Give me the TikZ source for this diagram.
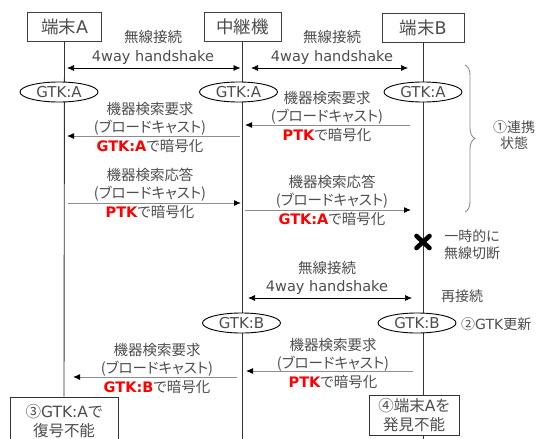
\documentclass[tikz,border=0pt]{standalone}
\usepackage{fontspec}
\setmainfont[RawFeature=+palt]{Noto Sans CJK JP}
\newfontfamily\lat{DejaVu Sans}
\usetikzlibrary{arrows.meta,shapes.geometric,decorations.pathreplacing}
\definecolor{txt}{HTML}{4D4D4D}
\definecolor{msg}{HTML}{8C8C8C}
\definecolor{keyred}{HTML}{FF0000}
\newcommand{\rk}[1]{\textcolor{keyred}{\lat\bfseries #1}}
\newcommand{\la}[1]{{\lat #1}}
\begin{document}
\begin{tikzpicture}[x=1pt,y=-1pt,
  hdr/.style={draw=black!75, fill=white, line width=0.8pt, minimum height=29pt, inner sep=0pt, text=txt, font=\fontsize{17.5}{20}\selectfont},
  botbox/.style={draw=black!80, fill=white, line width=0.8pt, inner sep=0pt, align=center, text=txt, font=\fontsize{15.5}{19}\selectfont},
  lbl/.style={align=center, text=txt, inner sep=0pt, font=\fontsize{14.5}{18.5}\selectfont},
  side/.style={align=center, text=txt, inner sep=0pt, font=\fontsize{14}{16}\selectfont},
  gtk/.style={ellipse, draw=black, fill=white, line width=0.9pt, minimum width=78pt, minimum height=20pt, inner sep=0pt, text=txt, font=\fontsize{15}{16}\selectfont\lat},
  life/.style={draw=black!80, line width=0.9pt},
  hs/.style={draw=black, line width=0.7pt, {Latex[length=7pt,width=6pt]}-{Latex[length=7pt,width=6pt]}},
  ms/.style={draw=msg, line width=1pt, -{Latex[length=7pt,width=6pt,color=black]}},
  xstroke/.style={black, line width=4.6pt, line cap=round}
]
\useasboundingbox (0,0) rectangle (536,439);

% headers
\node[hdr, minimum width=74pt] (A) at (64.5,26.5) {端末\la{A}};
\node[hdr, minimum width=77pt] (R) at (242.5,27) {中継機};
\node[hdr, minimum width=82pt] (B) at (423,27.5) {端末\la{B}};

% lifeline ends
\coordinate (Rend) at (242.5,439);
\coordinate (Bend) at (423,439);
\node[botbox, minimum width=108pt, minimum height=48pt] (C3) at (64,421) {③\la{GTK:A}で\\復号不能};
\draw[life] (A.south) -- (C3.north);
\draw[life] (R.south) -- (Rend);
\draw[life] (B.south) -- (Bend);
\node[botbox, minimum width=90pt, minimum height=40pt] (C4) at (414,415) {④端末\la{A}を\\発見不能};

% GTK ellipses
\node[gtk] (gA1) at (59,92) {GTK:A};
\node[gtk] (gR1) at (238.5,92) {GTK:A};
\node[gtk] (gB1) at (423,92) {GTK:A};
\node[gtk] (gR2) at (241.5,323) {GTK:B};
\node[gtk] (gB2) at (417,323) {GTK:B};

% handshake 1
\coordinate (h1a) at (67,68); \coordinate (h1b) at (240.5,68);
\draw[hs] (h1a) -- (h1b);
\node[lbl] (l1) at (153,47.5) {無線接続\\\la{4way handshake}};
% handshake 2
\coordinate (h2a) at (251,68); \coordinate (h2b) at (408,68);
\draw[hs] (h2a) -- (h2b);
\node[lbl] (l2) at (332,47.5) {無線接続\\\la{4way handshake}};

% messages round 1
\coordinate (m1a) at (410,125); \coordinate (m1b) at (245,125);
\draw[ms] (m1a) -- (m1b);
\node[lbl] (l3) at (327,116) {機器検索要求\\(ブロードキャスト)\\\rk{PTK}で暗号化};

\coordinate (m2a) at (240,136); \coordinate (m2b) at (67,136);
\draw[ms] (m2a) -- (m2b);
\node[lbl] (l4) at (150,127) {機器検索要求\\(ブロードキャスト)\\\rk{GTK:A}で暗号化};

\coordinate (m3a) at (68,203); \coordinate (m3b) at (241,203);
\draw[ms] (m3a) -- (m3b);
\node[lbl] (l5) at (150,193) {機器検索応答\\(ブロードキャスト)\\\rk{PTK}で暗号化};

\coordinate (m4a) at (245,210); \coordinate (m4b) at (411,210);
\draw[ms] (m4a) -- (m4b);
\node[lbl] (l6) at (332,200) {機器検索応答\\(ブロードキャスト)\\\rk{GTK:A}で暗号化};

% brace
\coordinate (brT) at (465,65); \coordinate (brB) at (465,212);
\draw[draw=msg, line width=0.9pt, decorate, decoration={brace, amplitude=10pt}] (brT) -- (brB);
\node[side] (s1) at (514,135) {①連携\\状態};

% disconnect
\coordinate (xm) at (423,242);
\draw[xstroke] ([shift={(-6.5,-6)}]xm) -- ([shift={(6.5,6)}]xm);
\draw[xstroke] ([shift={(-6.5,6)}]xm) -- ([shift={(6.5,-6)}]xm);
\node[side, font=\fontsize{14}{17}\selectfont] (s2) at (472,245) {一時的に\\無線切断};

% handshake 3
\coordinate (h3a) at (248,298); \coordinate (h3b) at (412,298);
\draw[hs] (h3a) -- (h3b);
\node[lbl] (l7) at (327,278) {無線接続\\\la{4way handshake}};
\node[side] (s3) at (462,296) {再接続};
\node[side, anchor=west] (s4) at (461,324) {②\la{GTK}更新};

% messages round 2
\coordinate (m5a) at (413,371); \coordinate (m5b) at (246,371);
\draw[ms] (m5a) -- (m5b);
\node[lbl] (l8) at (333,363) {機器検索要求\\(ブロードキャスト)\\\rk{PTK}で暗号化};

\coordinate (m6a) at (237,377); \coordinate (m6b) at (73,377);
\draw[ms] (m6a) -- (m6b);
\node[lbl] (l9) at (157,368) {機器検索要求\\(ブロードキャスト)\\\rk{GTK:B}で暗号化};
\end{tikzpicture}
\end{document}
